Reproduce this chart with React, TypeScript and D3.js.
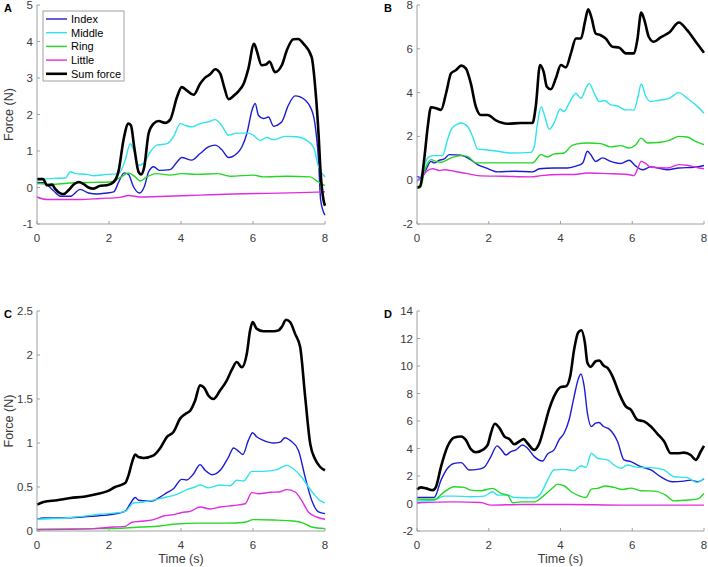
import React from "react"
import * as d3 from "d3"

type Pt = [number, number]

// ---- panel A (time s, force N) ----
const aIndex: Pt[] = [[0,0.14],[0.18,0.13],[0.46,-0.09],[0.65,-0.24],[0.93,-0.24],[1.2,-0.05],[1.43,-0.15],[1.67,-0.18],[1.94,-0.15],[2.13,-0.12],[2.27,0.15],[2.42,0.4],[2.54,0.36],[2.68,0.02],[2.85,-0.15],[2.98,0.02],[3.1,0.43],[3.24,0.57],[3.4,0.47],[3.7,0.49],[3.89,0.7],[4.02,0.82],[4.3,0.75],[4.53,0.93],[4.76,1.11],[4.95,1.16],[5.13,1.04],[5.32,0.82],[5.55,0.93],[5.69,1.11],[5.83,1.48],[5.97,2.11],[6.06,2.3],[6.15,1.98],[6.29,1.89],[6.43,1.93],[6.57,1.68],[6.8,1.8],[6.98,2.25],[7.17,2.51],[7.31,2.48],[7.59,2.21],[7.72,1.75],[7.82,0.75],[7.88,-0.35],[8,-0.76]]
const aMiddle: Pt[] = [[0,0.22],[0.46,0.25],[0.79,0.26],[0.93,0.43],[1.06,0.38],[1.39,0.36],[1.57,0.32],[1.94,0.36],[2.27,0.38],[2.45,0.75],[2.59,1.2],[2.68,1.04],[2.82,0.61],[2.96,0.66],[3.15,0.98],[3.33,1.16],[3.61,1.2],[3.79,1.39],[3.98,1.75],[4.12,1.7],[4.3,1.66],[4.53,1.75],[4.76,1.8],[4.95,1.86],[5.13,1.7],[5.32,1.43],[5.55,1.49],[5.87,1.49],[6.01,1.43],[6.2,1.29],[6.38,1.37],[6.57,1.31],[6.89,1.4],[7.22,1.39],[7.49,1.29],[7.68,1.11],[7.82,0.57],[8,0.29]]
const aRing: Pt[] = [[0,0.11],[0.46,0.09],[1.02,0.13],[1.57,0.14],[2.04,0.15],[2.31,0.27],[2.54,0.4],[2.73,0.29],[2.87,0.18],[3.05,0.29],[3.33,0.38],[3.7,0.34],[4.02,0.38],[4.44,0.36],[5,0.38],[5.37,0.31],[6.01,0.34],[6.29,0.29],[6.94,0.31],[7.59,0.29],[7.77,0.18],[8,0.05]]
const aLittle: Pt[] = [[0,-0.26],[0.28,-0.33],[0.65,-0.33],[1.2,-0.33],[1.76,-0.3],[2.31,-0.27],[2.54,-0.22],[2.87,-0.26],[3.61,-0.24],[4.53,-0.21],[5.46,-0.18],[6.38,-0.16],[7.31,-0.14],[8,-0.12]]
const aSum: Pt[] = [[0,0.23],[0.17,0.23],[0.28,0.06],[0.42,0.08],[0.5,-0.03],[0.65,-0.16],[0.74,-0.18],[0.88,-0.07],[1.02,0.08],[1.16,0.15],[1.3,0.09],[1.43,0],[1.57,-0.03],[1.76,0.05],[1.94,0.06],[2.13,0.15],[2.27,0.47],[2.4,1.29],[2.54,1.75],[2.61,1.7],[2.7,1.11],[2.82,0.43],[2.89,0.36],[2.98,0.57],[3.1,1.48],[3.24,1.75],[3.38,1.82],[3.56,1.77],[3.7,1.86],[3.89,2.48],[4.02,2.75],[4.16,2.66],[4.35,2.54],[4.53,2.84],[4.67,3.01],[4.81,3.1],[4.95,3.24],[5.09,3.12],[5.2,2.75],[5.32,2.42],[5.46,2.51],[5.6,2.64],[5.74,2.84],[5.87,3.25],[6.03,3.94],[6.1,3.76],[6.24,3.35],[6.36,3.37],[6.46,3.45],[6.61,3.16],[6.8,3.35],[6.94,3.76],[7.12,4.06],[7.26,4.07],[7.4,3.94],[7.63,3.57],[7.72,2.84],[7.82,1.48],[7.88,0.38],[7.96,-0.35],[8,-0.5]]

// ---- panel B ----
const bIndex: Pt[] = [[0,0.18],[0.11,0.11],[0.25,0.48],[0.39,0.86],[0.48,0.79],[0.62,0.91],[0.76,0.97],[0.9,1.17],[1.23,1.14],[1.46,0.97],[1.69,0.71],[1.92,0.56],[2.25,0.38],[2.71,0.41],[3.22,0.38],[3.41,0.52],[3.82,0.56],[4.2,0.56],[4.43,0.64],[4.62,0.79],[4.75,1.32],[4.84,1.17],[4.98,0.86],[5.17,1.02],[5.4,0.86],[5.68,0.76],[5.91,0.91],[6.1,0.64],[6.29,0.48],[6.51,0.61],[6.98,0.48],[7.3,0.56],[7.72,0.59],[8,0.67]]
const bMiddle: Pt[] = [[0,-0.09],[0.11,0.18],[0.3,1.02],[0.44,1.12],[0.71,1.12],[0.85,1.85],[0.95,2.3],[1.09,2.53],[1.23,2.61],[1.41,2.45],[1.55,2],[1.69,1.42],[1.92,1.39],[2.25,1.32],[2.62,1.24],[3.17,1.27],[3.27,1.55],[3.36,2.61],[3.46,3.36],[3.55,2.98],[3.69,2.33],[3.82,2.61],[3.99,3.24],[4.1,3.14],[4.24,3.52],[4.43,3.97],[4.57,3.74],[4.71,4.2],[4.8,4.42],[4.94,3.97],[5.08,3.59],[5.22,3.64],[5.4,3.44],[5.59,3.39],[5.82,3.21],[6.05,3.21],[6.16,3.82],[6.25,4.39],[6.38,3.82],[6.51,3.59],[6.7,3.64],[7.03,3.74],[7.3,4],[7.53,3.74],[7.77,3.44],[8,3.06]]
const bRing: Pt[] = [[0,-0.35],[0.09,-0.35],[0.22,0.48],[0.39,0.94],[0.53,0.86],[0.67,0.82],[0.95,1.02],[1.23,1.12],[1.41,1.09],[1.64,0.79],[1.97,0.79],[2.52,0.79],[3.22,0.79],[3.46,1.17],[3.64,1.06],[3.82,1.2],[4.1,1.24],[4.29,1.55],[4.43,1.65],[4.75,1.7],[5.12,1.67],[5.4,1.52],[5.68,1.58],[5.91,1.47],[6.1,1.62],[6.25,1.92],[6.42,1.7],[6.79,1.73],[7.03,1.82],[7.3,2],[7.53,1.97],[7.77,1.77],[8,1.62]]
const bLittle: Pt[] = [[0,0],[0.11,0.11],[0.3,0.45],[0.44,0.52],[0.62,0.44],[0.76,0.48],[1.04,0.41],[1.41,0.3],[1.69,0.21],[2.43,0.18],[3.17,0.15],[3.46,0.21],[4.01,0.26],[4.38,0.26],[4.75,0.33],[5.31,0.3],[5.87,0.26],[6.05,0.21],[6.14,0.48],[6.25,0.86],[6.38,0.76],[6.51,0.59],[6.98,0.56],[7.3,0.71],[7.53,0.68],[7.77,0.59],[8,0.52]]
const bSum: Pt[] = [[0,-0.35],[0.09,-0.27],[0.2,0.94],[0.3,2.45],[0.39,3.33],[0.53,3.29],[0.67,3.21],[0.81,3.97],[0.95,4.88],[1.09,5.03],[1.23,5.23],[1.36,5.11],[1.5,4.42],[1.64,3.36],[1.78,2.98],[1.97,2.98],[2.2,2.73],[2.52,2.58],[2.9,2.61],[3.22,2.61],[3.31,3.36],[3.43,5.26],[3.53,4.95],[3.62,4.27],[3.73,4.15],[3.87,4.65],[4.01,5.26],[4.15,5.15],[4.29,5.79],[4.43,6.47],[4.57,6.47],[4.69,7.3],[4.77,7.8],[4.86,7.45],[4.98,6.7],[5.12,6.62],[5.26,6.47],[5.45,6.09],[5.63,6.06],[5.82,5.79],[6.05,5.79],[6.14,6.39],[6.25,7.65],[6.34,7.3],[6.46,6.55],[6.6,6.32],[6.79,6.52],[7.03,6.74],[7.3,7.2],[7.53,6.85],[7.77,6.32],[8,5.82]]

// ---- panel C ----
const cIndex: Pt[] = [[0,0.133],[0.18,0.148],[0.83,0.15],[1.48,0.167],[2.04,0.186],[2.45,0.227],[2.59,0.31],[2.73,0.38],[2.82,0.35],[3.19,0.34],[3.42,0.386],[3.61,0.436],[3.79,0.48],[4.02,0.587],[4.16,0.58],[4.35,0.65],[4.53,0.754],[4.67,0.69],[4.86,0.64],[5.09,0.69],[5.32,0.84],[5.46,0.943],[5.57,0.917],[5.72,0.87],[5.87,1.03],[5.99,1.117],[6.1,1.07],[6.29,1.03],[6.57,1],[6.75,1.01],[6.89,1.06],[7.03,1.03],[7.26,0.917],[7.45,0.61],[7.63,0.35],[7.82,0.216],[8,0.197]]
const cMiddle: Pt[] = [[0,0.133],[0.83,0.15],[1.76,0.19],[2.45,0.223],[2.68,0.318],[2.96,0.33],[3.33,0.36],[3.61,0.386],[3.89,0.417],[4.16,0.47],[4.39,0.5],[4.53,0.523],[4.76,0.49],[5.09,0.523],[5.37,0.515],[5.55,0.576],[5.74,0.568],[5.97,0.678],[6.29,0.678],[6.66,0.697],[6.94,0.746],[7.12,0.708],[7.35,0.614],[7.54,0.5],[7.72,0.405],[7.86,0.348],[8,0.318]]
const cRing: Pt[] = [[0,0.019],[0.83,0.023],[1.76,0.027],[2.45,0.034],[2.87,0.045],[3.42,0.057],[3.79,0.076],[4.53,0.09],[5.27,0.09],[5.78,0.1],[6.01,0.129],[6.57,0.125],[7.12,0.114],[7.4,0.09],[7.63,0.045],[8,0.027]]
const cLittle: Pt[] = [[0,0.015],[0.83,0.019],[1.57,0.027],[2.13,0.045],[2.45,0.053],[2.64,0.1],[2.87,0.11],[3.24,0.13],[3.51,0.17],[3.79,0.186],[4.02,0.21],[4.26,0.223],[4.53,0.273],[4.81,0.25],[5.09,0.273],[5.46,0.29],[5.78,0.31],[5.97,0.436],[6.16,0.424],[6.48,0.44],[6.71,0.443],[6.94,0.47],[7.17,0.443],[7.35,0.348],[7.54,0.216],[7.77,0.159],[8,0.133]]
const cSum: Pt[] = [[0,0.3],[0.18,0.33],[0.56,0.35],[0.93,0.375],[1.3,0.39],[1.67,0.42],[1.94,0.45],[2.17,0.5],[2.45,0.545],[2.54,0.63],[2.64,0.78],[2.73,0.87],[2.82,0.84],[2.96,0.83],[3.24,0.86],[3.42,0.94],[3.61,1.07],[3.79,1.125],[3.98,1.28],[4.12,1.33],[4.26,1.37],[4.39,1.48],[4.53,1.655],[4.64,1.63],[4.76,1.54],[4.9,1.5],[5.09,1.6],[5.27,1.71],[5.41,1.83],[5.55,1.92],[5.69,1.86],[5.83,2.02],[5.92,2.28],[5.99,2.375],[6.1,2.3],[6.29,2.27],[6.57,2.27],[6.71,2.28],[6.8,2.32],[6.92,2.4],[7.03,2.375],[7.17,2.24],[7.31,2.09],[7.45,1.52],[7.59,0.99],[7.72,0.82],[7.86,0.73],[8,0.69]]

// ---- panel D ----
const dIndex: Pt[] = [[0,0.44],[0.48,0.44],[0.67,1.7],[0.85,2.56],[1.04,2.92],[1.23,2.97],[1.46,2.44],[1.69,2.48],[1.87,2.63],[2.06,3.41],[2.23,4.19],[2.34,3.95],[2.48,3.53],[2.62,3.78],[2.76,3.9],[2.94,4.26],[3.08,4.02],[3.27,3.41],[3.5,3.09],[3.64,3.6],[3.82,3.9],[3.96,4.63],[4.1,5.11],[4.24,6.09],[4.38,7.79],[4.49,9.01],[4.57,9.42],[4.66,8.52],[4.75,6.58],[4.86,5.6],[4.98,5.85],[5.07,5.89],[5.2,5.6],[5.36,5.41],[5.59,4.51],[5.77,3.17],[5.96,3.04],[6.24,2.68],[6.52,2.44],[6.79,1.95],[7.12,1.58],[7.44,1.63],[7.63,1.7],[7.81,1.58],[8,1.78]]
const dMiddle: Pt[] = [[0,0.19],[0.48,0.24],[0.76,0.54],[1.04,0.54],[1.5,0.49],[1.87,0.54],[2.11,0.85],[2.25,0.61],[2.53,0.61],[2.71,0.44],[3.27,0.41],[3.45,0.73],[3.64,1.7],[3.82,2.44],[4.1,2.48],[4.38,2.39],[4.57,2.75],[4.71,2.63],[4.86,3.65],[5.03,3.29],[5.31,3.17],[5.49,2.8],[5.68,2.56],[5.87,2.8],[6.14,2.63],[6.52,2.61],[6.89,2.44],[7.16,1.95],[7.53,1.88],[7.81,1.53],[8,1.83]]
const dRing: Pt[] = [[0,0.32],[0.48,0.29],[0.76,0.85],[1.04,1.22],[1.32,1.17],[1.5,0.97],[1.78,0.93],[2.11,1.1],[2.34,0.73],[2.53,0.61],[2.67,0.05],[2.9,0.12],[3.27,0.12],[3.55,0.61],[3.82,1.22],[3.91,1.39],[4.1,1.29],[4.33,0.8],[4.52,0.56],[4.71,0.44],[4.86,1.05],[5.03,1.1],[5.26,1.27],[5.49,1.17],[5.73,1.02],[5.96,1.12],[6.24,0.93],[6.61,0.9],[6.93,0.61],[7.16,0.19],[7.44,0.24],[7.81,0.32],[8,0.73]]
const dLittle: Pt[] = [[0,0.05],[1.04,0.12],[1.78,0.07],[2.06,-0.12],[2.9,-0.07],[4.29,-0.07],[5.68,-0.12],[8,-0.12]]
const dSum: Pt[] = [[0,1.02],[0.11,1.17],[0.25,1.1],[0.44,0.97],[0.53,1.22],[0.67,2.68],[0.85,4.14],[1.04,4.8],[1.23,4.87],[1.36,4.63],[1.5,3.95],[1.64,3.73],[1.83,3.9],[1.97,4.26],[2.06,5.11],[2.17,5.8],[2.3,5.48],[2.44,4.87],[2.58,4.68],[2.71,4.31],[2.85,4.51],[2.97,4.68],[3.08,4.38],[3.27,3.9],[3.41,4.38],[3.55,5.6],[3.68,6.82],[3.82,7.79],[4.01,8.48],[4.15,8.52],[4.27,9.25],[4.38,11.2],[4.49,12.42],[4.58,12.6],[4.68,11.69],[4.75,10.23],[4.84,9.94],[4.98,10.35],[5.08,10.4],[5.2,10.03],[5.31,9.86],[5.45,9.25],[5.63,8.04],[5.82,7.06],[5.96,6.82],[6.14,6.09],[6.33,5.97],[6.52,5.6],[6.7,5.07],[6.89,4.51],[7.07,3.65],[7.26,3.65],[7.44,3.7],[7.63,3.53],[7.77,3.17],[7.91,3.78],[8,4.19]]

const seriesNames = ["Index", "Middle", "Ring", "Little", "Sum force"]
const seriesColors = ["#1c1cd4", "#2ee4ea", "#22d822", "#e02ce0", "#000000"]
const xTicks = [0, 2, 4, 6, 8]

interface PanelSpec {
  letter: string
  data: Pt[][]
  yDomain: [number, number]
  yTicks: number[]
  left: number
  right: number
  top: number
  bottom: number
  yLabel: boolean
  xLabel: boolean
  legend: boolean
}

const panels: PanelSpec[] = [
  { letter: "A", data: [aIndex, aMiddle, aRing, aLittle, aSum], yDomain: [-1, 5], yTicks: [-1, 0, 1, 2, 3, 4, 5], left: 37, right: 325, top: 5, bottom: 224, yLabel: true, xLabel: false, legend: true },
  { letter: "B", data: [bIndex, bMiddle, bRing, bLittle, bSum], yDomain: [-2, 8], yTicks: [-2, 0, 2, 4, 6, 8], left: 417, right: 704, top: 5, bottom: 224, yLabel: false, xLabel: false, legend: false },
  { letter: "C", data: [cIndex, cMiddle, cRing, cLittle, cSum], yDomain: [0, 2.5], yTicks: [0, 0.5, 1, 1.5, 2, 2.5], left: 37, right: 325, top: 311, bottom: 531, yLabel: true, xLabel: true, legend: false },
  { letter: "D", data: [dIndex, dMiddle, dRing, dLittle, dSum], yDomain: [-2, 14], yTicks: [-2, 0, 2, 4, 6, 8, 10, 12, 14], left: 417, right: 704, top: 311, bottom: 531, yLabel: false, xLabel: true, legend: false },
]

const font = "'Liberation Sans', Arial, sans-serif"
const axisColor = "#a0a0a0"
const textColor = "#3a3a3a"

const Panel: React.FC<{ p: PanelSpec }> = ({ p }) => {
  const x = d3.scaleLinear().domain([0, 8]).range([p.left, p.right])
  const y = d3.scaleLinear().domain(p.yDomain).range([p.bottom, p.top])
  const line = d3.line<Pt>().x(d => x(d[0])).y(d => y(d[1])).curve(d3.curveMonotoneX)
  const fmt = (v: number) => (v < 0 ? "-" + Math.abs(v) : String(v))

  return (
    <g>
      {/* data lines, sum force drawn last on top */}
      {p.data.map((s, i) => (
        <path key={i} d={line(s) || ""} fill="none" stroke={seriesColors[i]}
          strokeWidth={i === 4 ? 2.6 : 1.4} strokeLinejoin="round" />
      ))}
      {/* axes */}
      <line x1={p.left} x2={p.left} y1={p.top} y2={p.bottom} stroke={axisColor} strokeWidth={1} />
      <line x1={p.left} x2={p.right} y1={p.bottom} y2={p.bottom} stroke={axisColor} strokeWidth={1} />
      {p.yTicks.map(t => (
        <g key={"y" + t}>
          <line x1={p.left} x2={p.left + 3} y1={y(t)} y2={y(t)} stroke={axisColor} />
          <text x={p.left - 4} y={y(t)} dy="0.35em" textAnchor="end" fontSize={11.5} fill={textColor} fontFamily={font}>{fmt(t)}</text>
        </g>
      ))}
      {xTicks.map(t => (
        <g key={"x" + t}>
          <line x1={x(t)} x2={x(t)} y1={p.bottom} y2={p.bottom - 3} stroke={axisColor} />
          <text x={x(t)} y={p.bottom + 18} textAnchor="middle" fontSize={11.5} fill={textColor} fontFamily={font}>{t}</text>
        </g>
      ))}
      <text x={p.left - 33} y={p.top + 7} fontSize={11} fontWeight="bold" fill="#000" fontFamily={font}>{p.letter}</text>
      {p.yLabel && (
        <text transform={`translate(${p.left - 24},${(p.top + p.bottom) / 2}) rotate(-90)`} textAnchor="middle"
          fontSize={12.5} fill={textColor} fontFamily={font}>Force (N)</text>
      )}
      {p.xLabel && (
        <text x={(p.left + p.right) / 2} y={p.bottom + 32} textAnchor="middle" fontSize={12.5} fill={textColor} fontFamily={font}>Time (s)</text>
      )}
      {p.legend && (
        <g>
          <rect x={p.left + 6} y={p.top + 6} width={81} height={70} fill="#fff" stroke={axisColor} />
          {seriesNames.map((n, i) => (
            <g key={n} transform={`translate(${p.left + 9},${p.top + 14 + i * 13.7})`}>
              <line x1={0} x2={21} y1={0} y2={0} stroke={seriesColors[i]} strokeWidth={i === 4 ? 2.6 : 1.4} />
              <text x={25} y={0} dy="0.35em" fontSize={11} fill="#000" fontFamily={font}>{n}</text>
            </g>
          ))}
        </g>
      )}
    </g>
  )
}

const App: React.FC = () => (
  <svg width={708} height={567} style={{ position: "absolute", left: 0, top: 0, background: "#fff" }}>
    <rect width={708} height={567} fill="#fff" />
    {panels.map(p => <Panel key={p.letter} p={p} />)}
  </svg>
)

export default App
